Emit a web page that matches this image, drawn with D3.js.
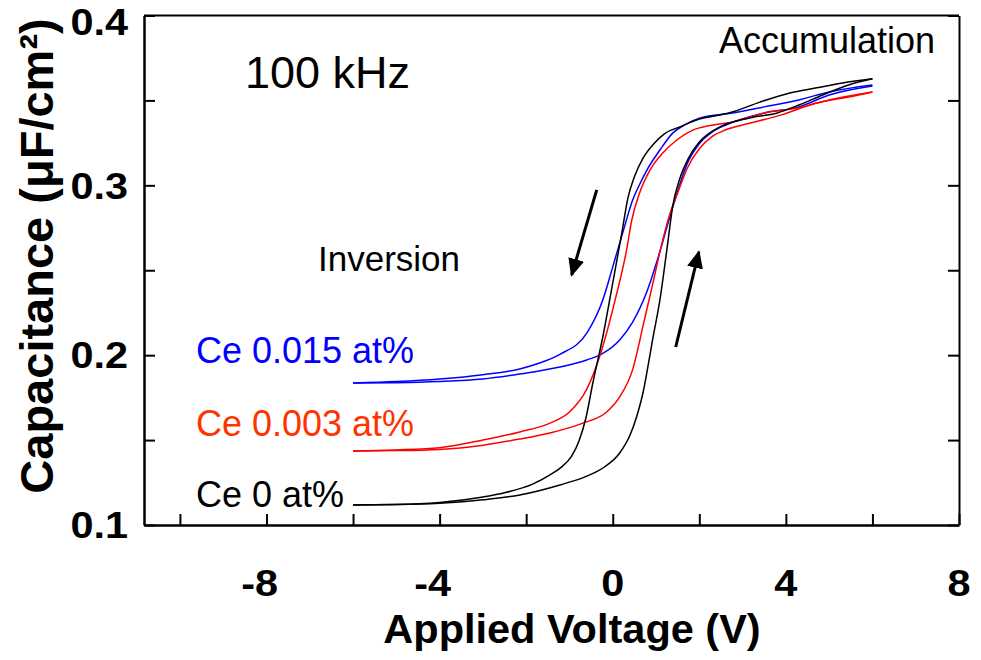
<!DOCTYPE html>
<html><head><meta charset="utf-8">
<script src="https://cdn.jsdelivr.net/npm/d3@7/dist/d3.min.js"></script>
<style>body{margin:0;background:#fff}svg{display:block}</style>
</head><body>
<svg id="chart" width="981" height="660"></svg>
<script>
// ---- data (Applied Voltage V, Capacitance uF/cm2) ----
const ce0Reverse = [[-6,0.1118],[-5,0.112],[-4,0.1132],[-3,0.1165],[-2.5,0.119],[-1.85,0.1241],[-1.46,0.1294],[-1.2,0.1338],[-0.95,0.1405],[-0.78,0.1495],[-0.62,0.163],[-0.46,0.1836],[-0.23,0.2107],[0.0,0.2425],[0.21,0.272],[0.35,0.2925],[0.5,0.305],[0.7,0.316],[0.95,0.3245],[1.2,0.3305],[1.55,0.3344],[2.0,0.339],[2.5,0.3415],[2.8,0.3435],[3.4,0.349],[4.09,0.3544],[4.71,0.3574],[5.31,0.3603],[6,0.3627]];
const ce0Forward = [[-6,0.1118],[-5,0.112],[-4,0.1128],[-3,0.1148],[-2.15,0.1177],[-1.22,0.1236],[-0.6,0.1288],[-0.2,0.134],[0.16,0.1424],[0.4,0.153],[0.55,0.1636],[0.7,0.178],[0.79,0.19],[0.92,0.209],[1.09,0.2325],[1.25,0.262],[1.39,0.2884],[1.55,0.304],[1.75,0.316],[2.0,0.3255],[2.4,0.3334],[3.16,0.3397],[3.8,0.3426],[4.3,0.3473],[4.85,0.3532],[5.45,0.3591],[6,0.3627]];
const ce015Reverse = [[-6,0.1836],[-5,0.1845],[-4,0.186],[-3,0.1885],[-2.15,0.1919],[-1.69,0.1954],[-1.22,0.2005],[-0.6,0.213],[-0.23,0.2325],[0.0,0.252],[0.23,0.272],[0.46,0.2914],[0.62,0.3005],[0.79,0.309],[1.09,0.3208],[1.39,0.3309],[1.66,0.3356],[2.02,0.3397],[2.77,0.3426],[3.5,0.3462],[4.3,0.3503],[5.0,0.355],[6,0.3591]];
const ce015Forward = [[-6,0.1836],[-5,0.1838],[-4,0.1845],[-3,0.186],[-2.15,0.1889],[-1.22,0.193],[-0.6,0.1972],[-0.25,0.2008],[0.16,0.209],[0.46,0.2195],[0.79,0.2375],[1.09,0.261],[1.32,0.2815],[1.5,0.2965],[1.71,0.3122],[2.0,0.3245],[2.3,0.3314],[2.6,0.3354],[3.5,0.3426],[4.3,0.3462],[5.0,0.3532],[6,0.3585]];
const ce003Reverse = [[-6,0.1436],[-5,0.1442],[-4,0.1455],[-3,0.15],[-2.15,0.1548],[-1.45,0.16],[-1.0,0.1665],[-0.6,0.18],[-0.28,0.201],[0.05,0.232],[0.32,0.262],[0.44,0.2796],[0.62,0.2955],[0.85,0.3085],[1.155,0.319],[1.48,0.3267],[1.85,0.3325],[2.24,0.3352],[2.77,0.3373],[3.5,0.3426],[4.3,0.3456],[5.0,0.3503],[6,0.355]];
const ce003Forward = [[-6,0.1436],[-5,0.1438],[-4,0.1445],[-3,0.147],[-2.15,0.1506],[-1.45,0.1542],[-0.69,0.16],[-0.14,0.1665],[0.16,0.1754],[0.46,0.1915],[0.72,0.2195],[0.92,0.2415],[1.1,0.262],[1.33,0.284],[1.5,0.2955],[1.73,0.3105],[2.0,0.3215],[2.3,0.3288],[2.6,0.3326],[3.16,0.3365],[3.9,0.3415],[4.7,0.3485],[5.45,0.352],[6,0.355]];

const seriesNames = ["Ce 0.015 at%","Ce 0.003 at%","Ce 0 at%"];
const seriesColors = ["#0000ff","#ff0000","#000000"];
const labelColors = ["#0000ff","#ff3300","#000000"];
const labelAnchors = [[-9.63,0.1955],[-9.63,0.1525],[-9.63,0.1105]]; // label positions (V, C)

const xTickValues = [-10,-8,-6,-4,-2,0,2,4,6,8];
const xTickLabels = [-8,-4,0,4,8];
const yTickValues = [0.1,0.15,0.2,0.25,0.3,0.35,0.4];
const yTickLabels = [0.1,0.2,0.3,0.4];

const arrowDown = [[-0.37,0.2973],[-0.95,0.2472]];
const arrowUp = [[1.455,0.2048],[1.99,0.2608]];

// ---- drawing ----
const svg = d3.select("#chart");
const font = "'Liberation Sans', Arial, Helvetica, sans-serif";
const x = d3.scaleLinear().domain([-10.83, 8]).range([144, 959]);
const y = d3.scaleLinear().domain([0.1, 0.4]).range([525, 15.5]);

// frame top
svg.append("line").attr("x1",x.range()[0]).attr("x2",x.range()[1]).attr("y1",y(0.4)).attr("y2",y(0.4))
  .attr("stroke","#000").attr("stroke-width",2);

const gx = svg.append("g").attr("transform",`translate(0,${y(0.1)})`)
  .call(d3.axisBottom(x).tickValues(xTickValues).tickSize(-11).tickSizeOuter(0).tickFormat(""));
const gy = svg.append("g").attr("transform",`translate(${x(-10.83)},0)`)
  .call(d3.axisLeft(y).tickValues(yTickValues).tickSize(-11).tickSizeOuter(0).tickFormat(""));
const gr = svg.append("g").attr("transform",`translate(${x(8)},0)`)
  .call(d3.axisLeft(y).tickValues(yTickValues).tickSize(11).tickSizeOuter(0).tickFormat(""));
[gx,gy,gr].forEach(g=>{
  g.select(".domain").attr("stroke","#000").attr("stroke-width",2.5);
  g.selectAll(".tick line").attr("stroke","#000").attr("stroke-width",2);
});
gr.select(".domain").attr("stroke-width",2);

// tick labels (slightly wide bold face)
const tfs = 37, sx = 1.12;
svg.append("g").selectAll("text").data(xTickLabels).join("text")
  .attr("transform",d=>`translate(${x(d)+0.278*tfs*sx},596) scale(${sx},1)`).attr("text-anchor","end")
  .attr("font-family",font).attr("font-weight","bold").attr("font-size",tfs)
  .text(d=>String(d));
svg.append("g").selectAll("text").data(yTickLabels).join("text")
  .attr("transform",d=>`translate(128,${Math.max(y(d)+0.36*tfs, 35)}) scale(${sx},1)`).attr("text-anchor","end")
  .attr("font-family",font).attr("font-weight","bold").attr("font-size",tfs)
  .text(d=>d3.format(".1f")(d));

// axis titles
svg.append("text").attr("x",572).attr("y",643).attr("text-anchor","middle")
  .attr("font-family",font).attr("font-weight","bold").attr("font-size",41.5)
  .text("Applied Voltage (V)");
svg.append("text").attr("transform","translate(53,256) rotate(-90)").attr("text-anchor","middle")
  .attr("font-family",font).attr("font-weight","bold").attr("font-size",47)
  .text("Capacitance (μF/cm²)");

// curves
const line = d3.line().x(d=>x(d[0])).y(d=>y(d[1])).curve(d3.curveMonotoneX);
const curves = [[ce015Reverse,ce015Forward],[ce003Reverse,ce003Forward],[ce0Reverse,ce0Forward]];
curves.forEach((pair,i)=>{
  pair.forEach(arr=>{
    svg.append("path").datum(arr).attr("d",line).attr("fill","none")
      .attr("stroke",seriesColors[i]).attr("stroke-width",1.5);
  });
});

// series labels
svg.append("g").selectAll("text").data(seriesNames).join("text")
  .attr("x",(d,i)=>x(labelAnchors[i][0])).attr("y",(d,i)=>y(labelAnchors[i][1]))
  .attr("font-family",font).attr("font-size",36).attr("fill",(d,i)=>labelColors[i])
  .text(d=>d);

// annotations
svg.append("text").attr("x",245).attr("y",88).attr("font-family",font).attr("font-size",45).text("100 kHz");
svg.append("text").attr("x",935).attr("y",53).attr("text-anchor","end").attr("font-family",font).attr("font-size",36).text("Accumulation");
svg.append("text").attr("x",318).attr("y",271).attr("font-family",font).attr("font-size",35).text("Inversion");

// arrows
svg.append("defs").append("marker").attr("id","ah").attr("viewBox","0 0 10 10")
  .attr("refX",9).attr("refY",5).attr("markerWidth",6).attr("markerHeight",6)
  .attr("markerUnits","strokeWidth").attr("orient","auto")
  .append("path").attr("d","M0,0.5 L10,5 L0,9.5 Z").attr("fill","#000");
[arrowDown,arrowUp].forEach(a=>{
  svg.append("line").attr("x1",x(a[0][0])).attr("y1",y(a[0][1])).attr("x2",x(a[1][0])).attr("y2",y(a[1][1]))
    .attr("stroke","#000").attr("stroke-width",3).attr("marker-end","url(#ah)");
});
</script>
</body></html>
